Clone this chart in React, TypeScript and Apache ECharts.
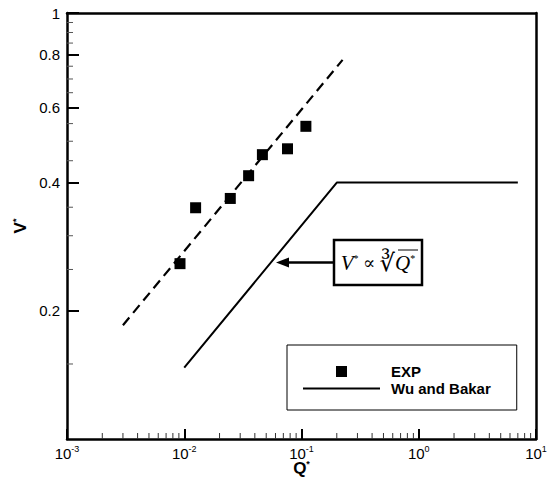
import React, { useEffect, useRef } from "react";
import * as echarts from "echarts";

// EXP data points (Q*, V*)
const EXP_Q = [0.0092, 0.0125, 0.0247, 0.0354, 0.0464, 0.076, 0.109];
const EXP_V = [0.258, 0.349, 0.367, 0.415, 0.465, 0.48, 0.542];

// dashed fit line V* ∝ Q*^(1/3)
const FIT_Q = [0.003, 0.224];
const FIT_V = [0.185, 0.776];

// Wu and Bakar
const WB_Q = [0.01, 0.2, 7];
const WB_V = [0.147, 0.4, 0.4];

// axis ticks
const Y_LABELS = [0.2, 0.4, 0.6, 0.8, 1];
const Y_MINOR = [0.15, 0.25, 0.3, 0.35, 0.45, 0.5, 0.55, 0.65, 0.7, 0.75, 0.85, 0.9, 0.95];
const X_MINOR_MULT = [2, 3, 4, 5, 6, 7, 8, 9];

const L = Math.log10;
const FONT = "'Liberation Sans', Arial, sans-serif";
const SERIF = "'Liberation Serif', 'DejaVu Serif', serif";

export default function App() {
  const ref = useRef<HTMLDivElement>(null);
  useEffect(() => {
    if (!ref.current) return;
    const chart = echarts.init(ref.current, undefined, { renderer: "svg" });
    const xMinor: number[] = [];
    for (let e = -3; e < 1; e++) X_MINOR_MULT.forEach((k) => xMinor.push(L(k * Math.pow(10, e))));

    const blackLine = { show: true, onZero: false, lineStyle: { color: "#000", width: 2.5 } };

    const option: any = {
      animation: false,
      backgroundColor: "#fff",
      grid: {
        left: 67,
        top: 13,
        right: 13,
        bottom: 38,
        outerBoundsMode: "none",
        containLabel: false,
      },
      legend: {
        orient: "vertical",
        left: 287,
        top: 345,
        selectedMode: false,
        backgroundColor: "#fff",
        borderColor: "#000",
        borderWidth: 1,
        padding: [19, 26, 14, 16],
        itemWidth: 77,
        itemHeight: 11,
        itemGap: 2,
        symbolKeepAspect: true,
        textStyle: { fontFamily: FONT, fontWeight: "bold", fontSize: 15, color: "#000", lineHeight: 15, padding: [0, 0, 0, 6] },
        data: [
          { name: "EXP", icon: "path://M0 0H10V10H0Z", itemStyle: { color: "#000", opacity: 1 } },
          { name: "Wu and Bakar", icon: "path://M0 0H77V2H0Z", itemStyle: { color: "#000", opacity: 1 } },
        ],
      },
      xAxis: [
        {
          type: "value",
          min: -3,
          max: 1,
          interval: 1,
          position: "bottom",
          name: "{b|Q}{s|*}",
          nameLocation: "middle",
          nameGap: 20,
          nameMoveOverlap: false,
          nameTextStyle: {
            rich: {
              b: { fontFamily: FONT, fontWeight: "bold", fontSize: 17, color: "#000" },
              s: { fontFamily: FONT, fontWeight: "bold", fontSize: 9, color: "#000", padding: [0, 0, 9, 0] },
            },
          },
          axisLine: blackLine,
          axisTick: { show: true, inside: true, length: 10, lineStyle: { color: "#000", width: 2 } },
          axisLabel: {
            show: true,
            margin: 5,
            formatter: (v: number) => `{b|10}{s|${Math.round(v)}}`,
            rich: {
              b: { fontFamily: FONT, fontSize: 15, color: "#000" },
              s: { fontFamily: FONT, fontSize: 9, color: "#000", padding: [0, 0, 10, 0] },
            },
          },
          splitLine: { show: false },
        },
        {
          type: "value",
          min: -3,
          max: 1,
          position: "top",
          offset: 0,
          axisLine: blackLine,
          axisTick: { show: false },
          axisLabel: { show: false },
          splitLine: { show: false },
        },
      ],
      yAxis: [
        {
          type: "value",
          min: -1,
          max: 0,
          position: "left",
          name: "{b|V}{s|*}",
          nameLocation: "middle",
          nameGap: 38,
          nameMoveOverlap: false,
          nameTextStyle: {
            rich: {
              b: { fontFamily: FONT, fontWeight: "bold", fontSize: 17, color: "#000" },
              s: { fontFamily: FONT, fontWeight: "bold", fontSize: 9, color: "#000", padding: [0, 0, 9, 0] },
            },
          },
          axisLine: blackLine,
          axisTick: { show: true, inside: true, length: 12, lineStyle: { color: "#000", width: 2 }, customValues: Y_LABELS.map(L) },
          axisLabel: {
            show: true,
            margin: 7,
            customValues: Y_LABELS.map(L),
            formatter: (v: number) => String(parseFloat(Math.pow(10, v).toFixed(2))),
            fontFamily: FONT,
            fontSize: 15,
            color: "#000",
          },
          splitLine: { show: false },
        },
        {
          type: "value",
          min: -1,
          max: 0,
          position: "right",
          offset: 0,
          axisLine: blackLine,
          axisTick: { show: false },
          axisLabel: { show: false },
          splitLine: { show: false },
        },
      ],
      series: [
        {
          name: "xMinorTicks",
          type: "custom",
          silent: true,
          clip: false,
          data: xMinor.map((v) => [v, -1]),
          renderItem: (_p: any, api: any) => {
            const c = api.coord([api.value(0), api.value(1)]);
            return {
              type: "line",
              shape: { x1: c[0], y1: c[1], x2: c[0], y2: c[1] - 6 },
              style: { stroke: "#333", lineWidth: 1 },
            };
          },
          z: 1,
        },
        {
          name: "yMinorTicks",
          type: "custom",
          silent: true,
          clip: false,
          data: Y_MINOR.map((v) => [-3, L(v)]),
          renderItem: (_p: any, api: any) => {
            const c = api.coord([api.value(0), api.value(1)]);
            return {
              type: "line",
              shape: { x1: c[0], y1: c[1], x2: c[0] + 6, y2: c[1] },
              style: { stroke: "#555", lineWidth: 1 },
            };
          },
          z: 1,
        },
        {
          name: "fit",
          type: "line",
          data: FIT_Q.map((q, i) => [L(q), L(FIT_V[i])]),
          symbol: "none",
          lineStyle: { color: "#000", width: 2.2, type: [10, 6] },
          z: 2,
        },
        {
          name: "Wu and Bakar",
          type: "line",
          data: WB_Q.map((q, i) => [L(q), L(WB_V[i])]),
          symbol: "none",
          itemStyle: { color: "#000" },
          lineStyle: { color: "#000", width: 2 },
          z: 2,
        },
        {
          name: "EXP",
          type: "scatter",
          data: EXP_Q.map((q, i) => [L(q), L(EXP_V[i])]),
          symbol: "rect",
          symbolSize: 11,
          itemStyle: { color: "#000", opacity: 1 },
          z: 3,
        },
      ],
      graphic: [
        {
          type: "line",
          shape: { x1: 334, y1: 262.5, x2: 285, y2: 262.5 },
          style: { stroke: "#000", lineWidth: 2.5 },
          z: 10,
        },
        {
          type: "polygon",
          shape: { points: [[276, 262.5], [289, 257.5], [289, 267.5]] },
          style: { fill: "#000" },
          z: 10,
        },
        {
          type: "rect",
          shape: { x: 334, y: 240, width: 88, height: 45 },
          style: { fill: "#fff", stroke: "#000", lineWidth: 2.5 },
          z: 10,
        },
        {
          type: "text",
          x: 378,
          y: 263,
          style: {
            text: "{v|V}{s|*}{n| ∝ }{r|∛}{q|Q}{s|*}",
            align: "center",
            verticalAlign: "middle",
            rich: {
              v: { fontFamily: SERIF, fontStyle: "italic", fontSize: 21, fill: "#000" },
              s: { fontFamily: SERIF, fontSize: 10, fill: "#000", padding: [0, 0, 10, 0] },
              n: { fontFamily: SERIF, fontSize: 18, fill: "#000" },
              r: { fontFamily: SERIF, fontSize: 24, fill: "#000" },
              q: { fontFamily: SERIF, fontStyle: "italic", fontSize: 21, fill: "#000" },
            },
          },
          z: 11,
        },
        {
          type: "line",
          shape: { x1: 398, y1: 250, x2: 418, y2: 250 },
          style: { stroke: "#000", lineWidth: 1 },
          z: 11,
        },
      ],
    };
    chart.setOption(option);
    return () => chart.dispose();
  }, []);
  return (
    <div
      ref={ref}
      style={{ position: "fixed", left: 0, top: 0, width: 549, height: 477, background: "#fff" }}
    />
  );
}
